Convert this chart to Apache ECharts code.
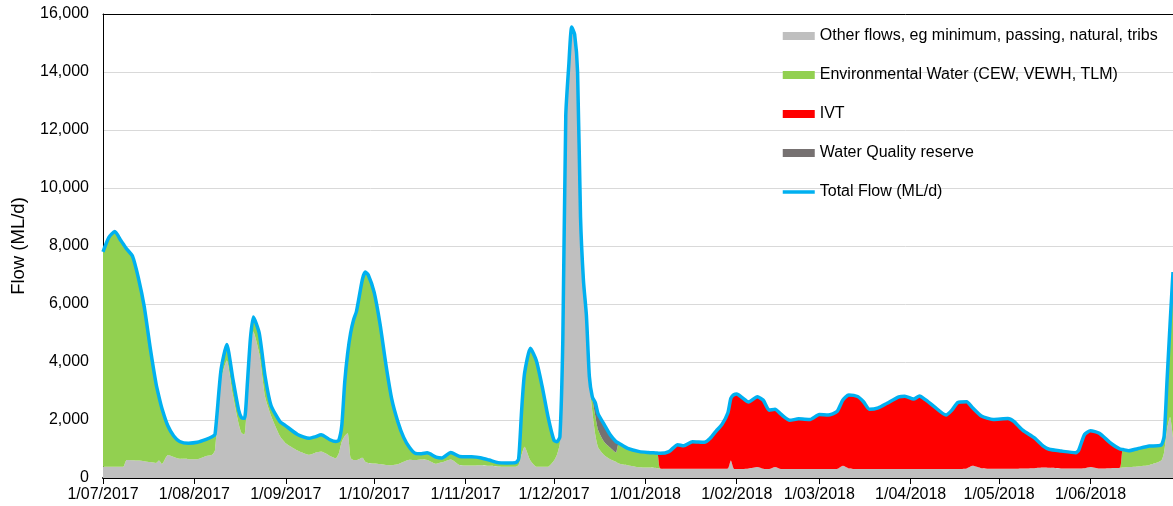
<!DOCTYPE html>
<html>
<head>
<meta charset="utf-8">
<script src="https://cdn.jsdelivr.net/npm/echarts@6/dist/echarts.min.js"></script>
<style>
  html, body { margin: 0; padding: 0; background: #ffffff; }
  #chart { width: 1173px; height: 506px; }
</style>
</head>
<body>
<div id="chart"></div>
<script>
// Daily flow record, July 2017 - June 2018 (ML/d)
const dates = [
  '2017-07-01','2017-07-03','2017-07-05','2017-07-07','2017-07-08','2017-07-09','2017-07-11','2017-07-13','2017-07-15','2017-07-17',
  '2017-07-19','2017-07-20','2017-07-21','2017-07-23','2017-07-25','2017-07-27','2017-07-30','2017-08-02','2017-08-05','2017-08-07',
  '2017-08-08','2017-08-10','2017-08-12','2017-08-14','2017-08-16','2017-08-17','2017-08-18','2017-08-19','2017-08-20','2017-08-21',
  '2017-08-23','2017-08-25','2017-08-27','2017-08-30','2017-09-01','2017-09-05','2017-09-09','2017-09-11','2017-09-13','2017-09-16',
  '2017-09-18','2017-09-19','2017-09-20','2017-09-21','2017-09-22','2017-09-23','2017-09-24','2017-09-25','2017-09-27','2017-09-28',
  '2017-09-29','2017-10-01','2017-10-03','2017-10-05','2017-10-07','2017-10-09','2017-10-11','2017-10-13','2017-10-15','2017-10-17',
  '2017-10-19','2017-10-22','2017-10-24','2017-10-27','2017-10-30','2017-11-03','2017-11-06','2017-11-09','2017-11-12','2017-11-15',
  '2017-11-18','2017-11-19','2017-11-20','2017-11-21','2017-11-23','2017-11-25','2017-11-27','2017-11-29','2017-12-01','2017-12-02',
  '2017-12-03','2017-12-04','2017-12-05','2017-12-06','2017-12-07','2017-12-08','2017-12-09','2017-12-10','2017-12-11','2017-12-12',
  '2017-12-13','2017-12-14','2017-12-15','2017-12-16','2017-12-18','2017-12-20','2017-12-22','2017-12-23','2017-12-26','2017-12-30',
  '2018-01-02','2018-01-05','2018-01-06','2018-01-09','2018-01-12','2018-01-14','2018-01-17','2018-01-21','2018-01-23','2018-01-25',
  '2018-01-27','2018-01-29','2018-01-30','2018-01-31','2018-02-01','2018-02-03','2018-02-05','2018-02-08','2018-02-10','2018-02-12',
  '2018-02-14','2018-02-16','2018-02-19','2018-02-22','2018-02-26','2018-03-01','2018-03-04','2018-03-07','2018-03-09','2018-03-11',
  '2018-03-14','2018-03-16','2018-03-18','2018-03-21','2018-03-24','2018-03-28','2018-03-30','2018-04-02','2018-04-04','2018-04-06',
  '2018-04-09','2018-04-13','2018-04-15','2018-04-17','2018-04-20','2018-04-22','2018-04-25','2018-04-29','2018-05-04','2018-05-06',
  '2018-05-09','2018-05-13','2018-05-16','2018-05-18','2018-05-22','2018-05-27','2018-05-28','2018-05-30','2018-06-01','2018-06-04',
  '2018-06-08','2018-06-11','2018-06-12','2018-06-14','2018-06-17','2018-06-21','2018-06-25','2018-06-26','2018-06-27','2018-06-28',
  '2018-06-29'
];

const totalFlow = [
  7800,8300,8500,8200,8050,7900,7650,6900,5900,4500,
  3250,2800,2400,1800,1450,1260,1200,1230,1330,1420,
  1500,3700,4600,3450,2350,2080,2060,3300,4800,5550,
  5000,3500,2500,1950,1800,1500,1370,1420,1490,1320,
  1260,1300,1800,3300,4300,5000,5450,5750,6850,7100,
  7000,6400,5300,3900,2700,1950,1400,1050,850,840,
  870,720,690,880,740,730,700,620,530,520,
  530,650,2300,3600,4470,4050,3150,2100,1300,1250,
  1420,4800,12500,14200,15550,15300,14000,9000,6800,5600,
  3500,2800,2600,2200,1850,1500,1260,1200,1020,910,
  880,860,850,910,1150,1110,1250,1230,1370,1620,
  1850,2250,2750,2870,2900,2760,2620,2800,2680,2340,
  2370,2200,1990,2040,2020,2190,2170,2290,2690,2860,
  2810,2630,2370,2420,2580,2800,2820,2720,2830,2700,
  2460,2170,2340,2600,2630,2420,2140,2020,2050,1950,
  1650,1380,1100,990,930,870,960,1500,1630,1540,
  1190,1000,980,940,1010,1100,1140,1450,3400,5300,
  7100
];

const otherFlows = [
  390,390,390,390,400,620,610,600,580,550,
  520,600,480,790,720,660,650,650,760,800,
  960,3350,4050,2900,1880,1550,1500,2800,4400,5050,
  4300,2800,2150,1450,1200,950,800,870,910,760,
  680,850,1250,1450,1540,700,620,620,700,560,
  520,500,480,450,440,470,560,630,620,640,
  620,490,540,640,450,430,440,420,400,390,
  390,450,800,1080,600,390,390,390,600,800,
  1200,4700,12450,14150,15500,15250,13950,8900,6650,5400,
  3300,2300,1500,1050,790,650,560,500,440,370,
  360,340,330,320,320,320,320,320,320,320,
  320,330,600,320,310,310,330,380,320,310,
  380,310,310,310,310,310,310,310,420,330,
  310,310,310,310,310,310,310,310,310,310,
  310,310,310,310,330,420,340,320,320,320,
  330,340,360,350,330,330,330,340,380,330,
  340,350,360,380,400,450,600,900,1700,2100,
  1400
];

const envWater = [
  7410,7910,8110,7810,7650,7280,7040,6300,5320,3950,
  2730,2200,1920,1010,730,600,550,580,570,620,
  540,350,550,550,470,530,560,500,400,500,
  700,700,350,500,600,550,570,550,580,560,
  580,450,550,1850,2760,4300,4830,5130,6150,6540,
  6480,5900,4820,3450,2260,1480,840,420,230,200,
  250,230,150,240,290,300,260,200,130,130,
  140,200,1500,2520,3870,3660,2760,1710,700,450,
  220,100,50,50,50,50,50,100,150,200,
  200,450,650,600,460,400,320,700,580,540,
  520,520,0,0,0,0,0,0,0,0,
  0,0,0,0,0,0,0,0,0,0,
  0,0,0,0,0,0,0,0,0,0,
  0,0,0,0,0,0,0,0,0,0,
  0,0,0,0,0,0,0,0,0,0,
  0,0,0,0,0,0,0,0,0,0,
  0,0,620,560,610,650,540,550,1700,3200,
  5700
];

const ivt = [
  0,0,0,0,0,0,0,0,0,0,
  0,0,0,0,0,0,0,0,0,0,
  0,0,0,0,0,0,0,0,0,0,
  0,0,0,0,0,0,0,0,0,0,
  0,0,0,0,0,0,0,0,0,0,
  0,0,0,0,0,0,0,0,0,0,
  0,0,0,0,0,0,0,0,0,0,
  0,0,0,0,0,0,0,0,0,0,
  0,0,0,0,0,0,0,0,0,0,
  0,0,0,0,0,0,0,0,0,0,
  0,0,520,590,830,790,930,910,1050,1300,
  1530,1920,2150,2550,2590,2450,2290,2420,2360,2030,
  1990,1890,1680,1730,1710,1880,1860,1980,2270,2530,
  2500,2320,2060,2110,2270,2490,2510,2410,2520,2390,
  2150,1860,2030,2290,2300,2000,1800,1700,1730,1630,
  1320,1040,740,640,600,540,630,1160,1250,1210,
  850,650,0,0,0,0,0,0,0,0,
  0
];

const wqReserve = [
  0,0,0,0,0,0,0,0,0,0,
  0,0,0,0,0,0,0,0,0,0,
  0,0,0,0,0,0,0,0,0,0,
  0,0,0,0,0,0,0,0,0,0,
  0,0,0,0,0,0,0,0,0,0,
  0,0,0,0,0,0,0,0,0,0,
  0,0,0,0,0,0,0,0,0,0,
  0,0,0,0,0,0,0,0,0,0,
  0,0,0,0,0,0,0,0,0,0,
  0,50,450,550,600,450,380,0,0,0,
  0,0,0,0,0,0,0,0,0,0,
  0,0,0,0,0,0,0,0,0,0,
  0,0,0,0,0,0,0,0,0,0,
  0,0,0,0,0,0,0,0,0,0,
  0,0,0,0,0,0,0,0,0,0,
  0,0,0,0,0,0,0,0,0,0,
  0,0,0,0,0,0,0,0,0,0,
  0
];

const seriesNames = [
  'Other flows, eg minimum, passing, natural, tribs',
  'Environmental Water (CEW, VEWH, TLM)',
  'IVT',
  'Water Quality reserve',
  'Total Flow (ML/d)'
];
const seriesColors = ['#bfbfbf', '#92d050', '#ff0000', '#767171', '#00b0f0'];

const FONT = "'Liberation Sans', Arial, sans-serif";
const SMOOTH = 0.2;
const pad2 = n => (n < 10 ? '0' : '') + n;
const pairs = values => values.map((v, i) => [dates[i], v]);

const xMin = new Date(2017, 6, 1).getTime();
const xMax = new Date(2018, 5, 29).getTime();
const DAY = 86400000;

function stackedArea(idx, values) {
  return {
    name: seriesNames[idx],
    type: 'line',
    stack: 'flow',
    data: pairs(values),
    symbol: 'none',
    showSymbol: false,
    smooth: SMOOTH,
    lineStyle: { width: 0 },
    itemStyle: { color: seriesColors[idx] },
    areaStyle: { color: seriesColors[idx], opacity: 1 },
    z: 2
  };
}

const chart = echarts.init(document.getElementById('chart'), null, { renderer: 'canvas' });
chart.setOption({
  animation: false,
  backgroundColor: '#ffffff',
  textStyle: { fontFamily: FONT },
  grid: { left: 103, right: 0, top: 14, bottom: 28, containLabel: false },
  legend: {
    orient: 'vertical',
    left: 781,
    top: 27,
    padding: 0,
    itemWidth: 32,
    itemHeight: 8,
    itemGap: 21,
    selectedMode: false,
    textStyle: { fontFamily: FONT, fontSize: 16, color: '#000', lineHeight: 18 },
    data: [
      { name: seriesNames[0], icon: 'rect' },
      { name: seriesNames[1], icon: 'rect' },
      { name: seriesNames[2], icon: 'rect' },
      { name: seriesNames[3], icon: 'rect' },
      {
        name: seriesNames[4],
        itemStyle: { color: 'rgba(0,0,0,0)', borderColor: 'rgba(0,0,0,0)', borderWidth: 0 },
        lineStyle: { color: seriesColors[4], width: 3.5 }
      }
    ]
  },
  xAxis: [
    {
      type: 'time',
      min: xMin,
      max: xMax,
      splitNumber: 12,
      minInterval: 31 * DAY,
      maxInterval: 31 * DAY,
      axisLine: { show: true, lineStyle: { color: '#000', width: 2 } },
      axisTick: { show: true, length: 6, lineStyle: { color: '#000', width: 1 } },
      splitLine: { show: false },
      axisLabel: {
        fontFamily: FONT,
        fontSize: 16,
        color: '#000',
        margin: 9,
        hideOverlap: false,
        formatter: function (value) {
          const d = new Date(value);
          return d.getDate() + '/' + pad2(d.getMonth() + 1) + '/' + d.getFullYear();
        }
      }
    },
    {
      type: 'time',
      position: 'top',
      min: xMin,
      max: xMax,
      axisLine: { show: true, lineStyle: { color: '#000', width: 1 } },
      axisTick: { show: false },
      axisLabel: { show: false },
      splitLine: { show: false }
    }
  ],
  yAxis: {
    type: 'value',
    min: 0,
    max: 16000,
    interval: 2000,
    name: 'Flow (ML/d)',
    nameLocation: 'middle',
    nameGap: 75,
    nameTextStyle: { fontFamily: FONT, fontSize: 18.5, color: '#000' },
    axisLine: { show: true, lineStyle: { color: '#000', width: 1 } },
    axisTick: { show: false },
    splitLine: { show: true, lineStyle: { color: '#d9d9d9', width: 1 } },
    axisLabel: {
      fontFamily: FONT,
      fontSize: 16,
      color: '#000',
      margin: 14,
      formatter: v => v.toLocaleString('en-US')
    }
  },
  series: [
    stackedArea(0, otherFlows),
    stackedArea(1, envWater),
    stackedArea(2, ivt),
    stackedArea(3, wqReserve),
    {
      name: seriesNames[4],
      type: 'line',
      data: pairs(totalFlow),
      symbol: 'none',
      showSymbol: false,
      smooth: SMOOTH,
      itemStyle: { color: seriesColors[4] },
      lineStyle: { color: seriesColors[4], width: 3.5, join: 'round' },
      z: 5
    }
  ]
});
</script>
</body>
</html>
